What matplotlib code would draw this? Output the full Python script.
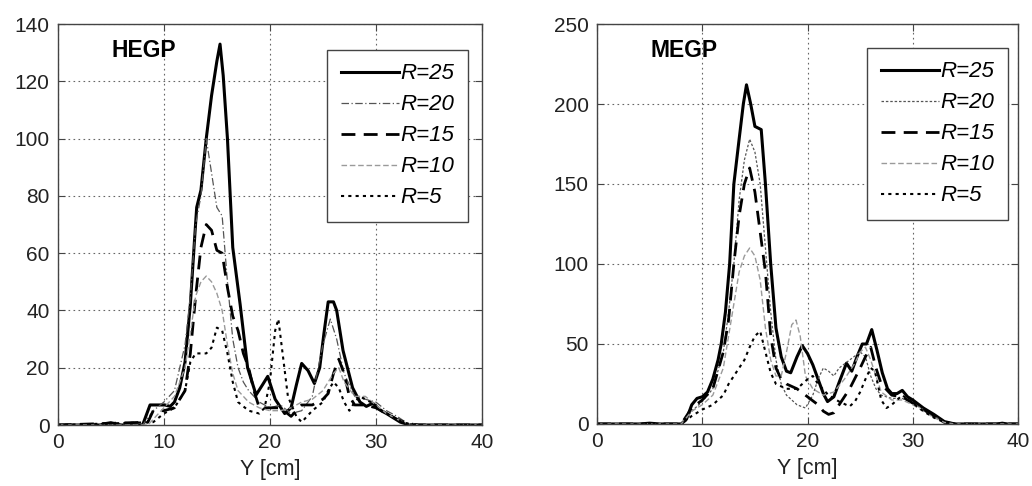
"""
Two panels of profiles along Y for several R values (HEGP / MEGP)
"""

import matplotlib
matplotlib.use("Agg")
import matplotlib.pyplot as plt

plt.rcParams['font.family'] = ['Liberation Sans', 'DejaVu Sans']

LABELS = ["R=25", "R=20", "R=15", "R=10", "R=5"]

# ---- HEGP (left panel) ----
hegp_x25 = [0, 4, 4.5, 5, 5.5, 6, 8, 8.7, 9.2, 10.1, 10.6, 11, 11.5, 12, 12.5, 12.9, 13.1,
            13.5, 14, 14.5, 15, 15.3, 15.6, 16, 16.5, 17.2, 17.9, 18.7, 19.3, 19.8, 20.5,
            21.4, 22, 22.5, 23, 23.6, 24.2, 24.7, 25.1, 25.5, 26.0, 26.3, 26.9, 27.8, 28.5,
            29.1, 29.7, 30.5, 31, 32.3, 33, 34, 40]
hegp_y25 = [0, 0, 0.5, 0.8, 0.3, 0, 0, 7, 7, 7, 6.5, 8, 13, 22, 42, 65, 76,
            82, 100, 115, 127, 133, 122, 100, 62, 42, 20, 10.5, 14, 17, 9,
            4, 6, 14, 21.5, 19, 14.5, 20, 32, 43, 43, 40, 26, 13, 8,
            6.5, 7.6, 5, 4, 1, 0.2, 0, 0]

hegp_x20 = [0, 8, 9, 10, 11, 12, 12.5, 13, 13.5, 14, 14.5, 15, 15.5, 16, 16.5, 17, 17.5,
            18, 19, 20, 21, 22, 23, 24, 25, 25.7, 26.3, 27, 28, 29, 30, 31, 32, 33, 34, 40]
hegp_y20 = [0, 0, 5, 8, 12, 28, 45, 70, 80, 100, 88, 76, 73, 50, 30, 20, 15,
            12, 8, 6, 7, 4, 5, 10, 28, 37, 30, 18, 10, 9, 8, 5, 3, 0.5, 0, 0]

hegp_x15 = [0, 8.5, 9, 10, 11, 12, 12.5, 13, 13.5, 14, 14.5, 15, 15.5, 16, 16.5, 17, 17.5,
            18, 18.5, 19, 20, 21, 22, 23, 24, 25, 25.5, 26, 26.5, 27, 27.5, 28, 29, 30, 31,
            32, 33, 34, 40]
hegp_y15 = [0, 1, 5, 5, 6, 12, 25, 45, 62, 70, 68, 61, 60, 48, 38, 33, 25,
            20, 12, 6, 6, 6, 3, 7, 7, 9, 11, 18, 23, 18, 10, 7, 7, 6, 4,
            2, 0.5, 0, 0]

hegp_x10 = [0, 8.5, 9, 10, 11, 12, 12.5, 13, 13.5, 14, 14.5, 15, 15.5, 16, 16.5, 17, 18,
            19, 20, 21, 22, 23, 24, 25, 26, 26.5, 27, 28, 29, 30, 31, 32, 33, 34, 40]
hegp_y10 = [0, 0, 2, 6, 10, 20, 32, 45, 50, 52, 50, 46, 40, 28, 18, 12, 8,
            6, 5, 5, 6, 8, 9, 12, 18, 20, 15, 10, 10, 7, 4, 2, 0.5, 0, 0]

hegp_x5 = [0, 9, 10, 11, 12, 12.5, 13, 13.5, 14, 14.5, 15, 15.5, 16, 16.5, 17, 18, 19, 19.5,
           20, 20.5, 20.8, 21.2, 21.7, 22.5, 23, 23.5, 24, 25, 25.5, 26, 26.5, 27, 27.5, 28,
           28.5, 29.5, 30.5, 31.5, 32.5, 33.5, 40]
hegp_y5 = [0, 1, 4, 6, 12, 22, 25, 25, 25, 27, 34, 33, 25, 15, 8, 5, 4, 6,
           15, 33, 37, 25, 10, 3, 1, 3, 5, 8, 12, 15, 13, 8, 5, 8,
           10, 8, 5, 3, 1, 0, 0]

# ---- MEGP (right panel) ----
megp_x25 = [0, 4, 5, 6, 8, 8.5, 9, 9.5, 10, 10.5, 11, 11.5, 11.8, 12.2, 12.6, 13, 13.5,
            13.9, 14.2, 14.6, 15, 15.6, 16, 16.5, 17, 17.5, 18, 18.4, 19, 19.5, 20, 20.5,
            21, 21.5, 21.9, 22.5, 23, 23.7, 24.2, 24.7, 25.2, 25.6, 26.1, 26.6, 27.1, 27.6,
            28, 28.5, 29, 29.5, 30, 31, 32, 33, 34, 38, 38.5, 39, 40]
megp_y25 = [0, 0, 0.5, 0, 0, 3, 12, 16, 17, 20, 28, 40, 50, 70, 100, 150, 178,
            200, 212, 200, 186, 184, 150, 100, 60, 42, 33, 32, 42, 49, 44, 37,
            28, 19, 14, 17, 26, 38, 33, 42, 50, 50, 59, 46, 32, 22,
            19, 19, 21, 17, 15, 10, 6, 1.5, 0, 0, 0.5, 0, 0]

megp_x20 = [0, 8, 9, 10, 11, 12, 12.5, 13, 13.5, 14, 14.5, 15, 15.5, 16, 16.5, 17, 17.5,
            18, 19, 19.8, 20.5, 21, 21.5, 22, 22.5, 23, 24, 25, 25.5, 26, 26.5, 27, 28, 29,
            30, 31, 32, 33, 34, 40]
megp_y20 = [0, 0, 8, 14, 22, 45, 70, 100, 140, 165, 178, 170, 150, 110, 70, 40, 25,
            18, 12, 10, 18, 28, 35, 33, 30, 35, 40, 45, 42, 30, 22, 18, 16, 16,
            13, 9, 5, 1, 0, 0]

megp_x15 = [0, 8, 9, 10, 11, 12, 12.5, 13, 13.5, 14, 14.5, 15, 15.5, 16, 16.5, 17, 17.5,
            18, 19, 20, 21, 21.5, 22, 22.5, 23, 24, 25, 25.5, 26, 26.5, 27, 28, 29, 30, 31,
            32, 33, 34, 40]
megp_y15 = [0, 0, 10, 15, 22, 45, 65, 100, 130, 150, 160, 145, 120, 95, 55, 35, 28,
            25, 22, 17, 12, 8, 6, 7, 12, 22, 35, 42, 48, 35, 25, 18, 17, 13, 9,
            5, 1, 0, 0]

megp_x10 = [0, 8, 9, 10, 11, 12, 12.5, 13, 13.5, 14, 14.5, 15, 15.5, 16, 16.5, 17, 17.5,
            18, 18.5, 18.9, 19.3, 19.8, 20.5, 21.5, 22.5, 23.5, 24.5, 25, 25.5, 26, 26.5,
            27, 28, 29, 30, 31, 32, 33, 34, 40]
megp_y10 = [0, 0, 8, 12, 18, 35, 55, 75, 95, 105, 110, 105, 90, 60, 40, 30, 30,
            45, 62, 65, 55, 30, 22, 18, 20, 28, 38, 45, 48, 40, 30,
            20, 15, 15, 12, 8, 4, 1, 0, 0]

megp_x5 = [0, 8, 9, 10, 11, 12, 12.5, 13, 13.5, 14, 14.5, 15, 15.5, 16, 16.5, 17, 18, 19,
           19.5, 20, 20.5, 21, 22, 23, 24, 24.5, 25, 25.5, 26, 26.4, 27, 27.5, 28, 29, 30,
           31, 32, 33, 34, 40]
megp_y5 = [0, 0, 5, 9, 12, 18, 25, 30, 35, 40, 48, 55, 58, 45, 32, 25, 22, 22,
           25, 28, 30, 25, 18, 14, 11, 14, 20, 28, 35, 33, 15, 10, 12, 18, 13,
           8, 4, 1, 0, 0]

# line styles: R=25, R=20, R=15, R=10, R=5
STYLES_LEFT = [
    dict(color="black", lw=2.2, ls="-"),
    dict(color="#555555", lw=0.9, ls=(0, (6, 2, 1, 2))),
    dict(color="black", lw=2.0, ls=(0, (5, 3))),
    dict(color="#9a9a9a", lw=1.0, ls=(0, (4, 2))),
    dict(color="black", lw=1.5, ls=(0, (1.5, 2))),
]
STYLES_RIGHT = [
    dict(color="black", lw=2.2, ls="-"),
    dict(color="#555555", lw=0.9, ls=(0, (2, 1.5))),
    dict(color="black", lw=2.0, ls=(0, (5, 3))),
    dict(color="#9a9a9a", lw=1.0, ls=(0, (4, 2))),
    dict(color="black", lw=1.5, ls=(0, (1.5, 2))),
]


def draw_panel(ax, series, styles, title, ymax, ystep, legend_anchor):
    for (xs, ys), label, st in zip(series, LABELS, styles):
        ax.plot(xs, ys, label=label, **st)

    ax.set_xlim(0, 40)
    ax.set_ylim(0, ymax)
    ax.set_xticks(range(0, 41, 10))
    ax.set_yticks(range(0, ymax + 1, ystep))
    ax.grid(True, color="#666666", lw=0.8, ls=(0, (1.5, 3)))
    ax.tick_params(direction="in", top=True, right=True, length=5, pad=6,
                   labelsize=15, colors="#444444", labelcolor="#222222")
    for sp in ax.spines.values():
        sp.set_color("#444444")
        sp.set_linewidth(1.0)
    ax.set_xlabel("Y [cm]", fontsize=15.5, color="#222222", labelpad=5)
    ax.text(0.127, 0.935, title, transform=ax.transAxes, fontsize=16.5,
            fontweight="bold", va="center", ha="left")

    leg = ax.legend(loc="upper right", bbox_to_anchor=legend_anchor,
                    prop=dict(size=16, style="italic"), handlelength=2.6,
                    handletextpad=0.1, labelspacing=0.45, borderpad=0.6,
                    borderaxespad=0, fancybox=False, framealpha=1,
                    edgecolor="#444444")
    leg.get_frame().set_linewidth(1.0)


def main():
    fig = plt.figure(figsize=(10.32, 4.86), dpi=100)
    ax1 = fig.add_axes([0.056, 0.1255, 0.411, 0.825])
    ax2 = fig.add_axes([0.5785, 0.1276, 0.408, 0.823])

    left = [(hegp_x25, hegp_y25), (hegp_x20, hegp_y20), (hegp_x15, hegp_y15),
            (hegp_x10, hegp_y10), (hegp_x5, hegp_y5)]
    right = [(megp_x25, megp_y25), (megp_x20, megp_y20), (megp_x15, megp_y15),
             (megp_x10, megp_y10), (megp_x5, megp_y5)]

    draw_panel(ax1, left, STYLES_LEFT, "HEGP", 140, 20, (0.967, 0.935))
    draw_panel(ax2, right, STYLES_RIGHT, "MEGP", 250, 50, (0.976, 0.94))

    fig.savefig("out.png", dpi=100)
    plt.close(fig)


if __name__ == "__main__":
    main()
